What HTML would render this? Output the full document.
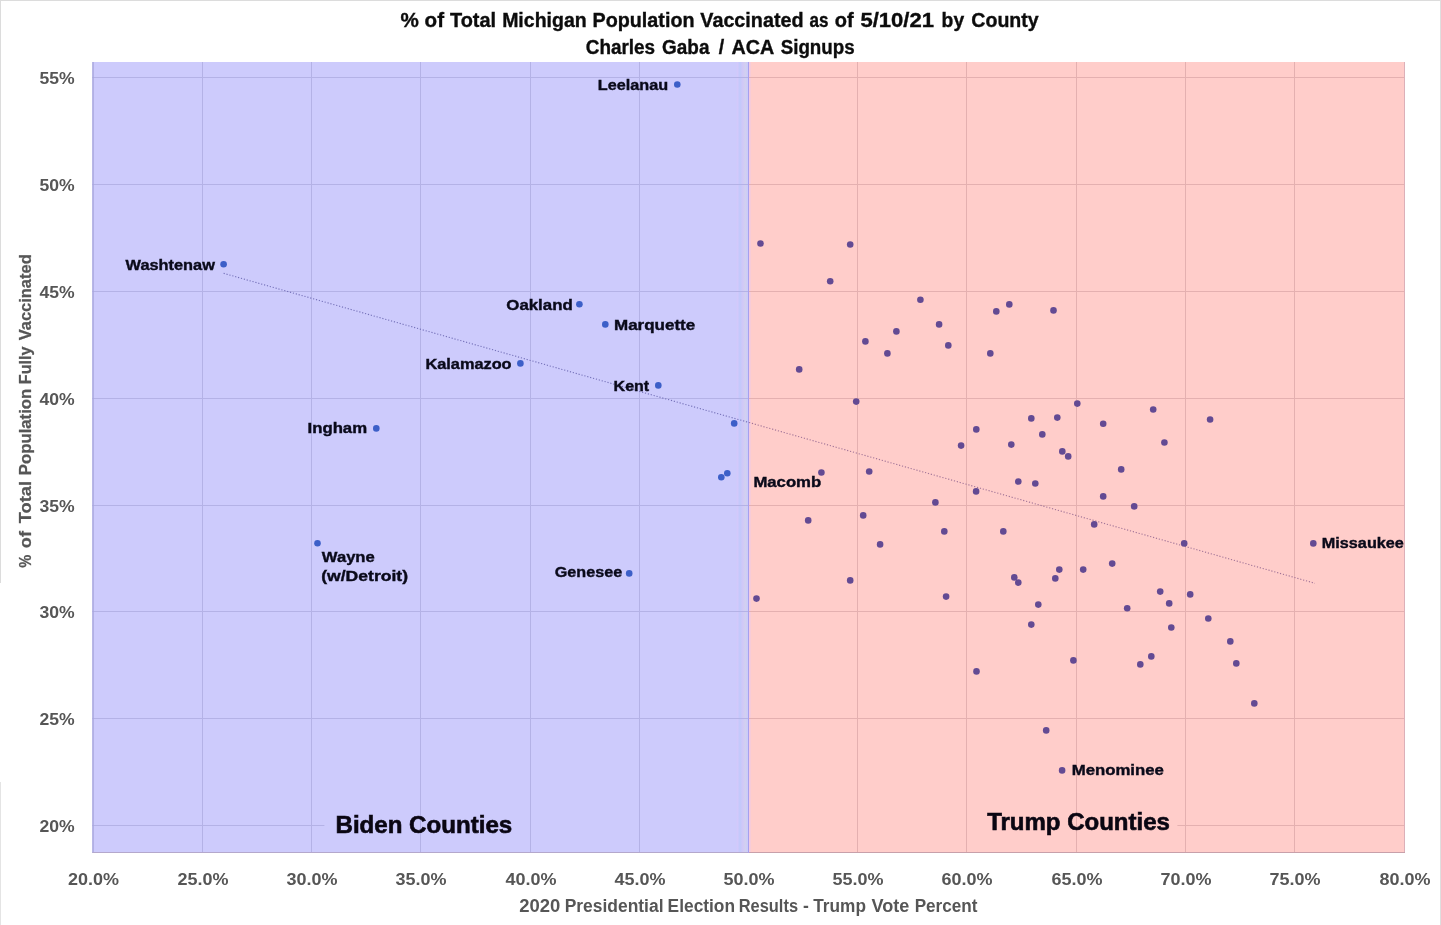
<!DOCTYPE html>
<html lang="en"><head><meta charset="utf-8"><title>% of Total Michigan Population Vaccinated as of 5/10/21 by County</title>
<style>
html,body{margin:0;padding:0;background:#fff;}
body{width:1441px;height:925px;overflow:hidden;font-family:"Liberation Sans",sans-serif;}
svg{display:block;}
text{font-family:"Liberation Sans",sans-serif;}
.ttl{font-weight:bold;fill:#0c0c0c;stroke:#0c0c0c;stroke-width:0.35px;}
.ax{font-weight:bold;fill:#565656;}
.lb{font-weight:bold;fill:#0a0a1a;stroke:#0a0a1a;stroke-width:0.4px;}
.big{font-weight:bold;fill:#0a0612;stroke:#0a0612;stroke-width:0.6px;}
</style></head><body>
<svg width="1441" height="925" viewBox="0 0 1441 925">
<rect x="0" y="0" width="1441" height="925" fill="#ffffff"/>
<rect x="0" y="0" width="1441" height="1" fill="#dcdcdc"/>
<rect x="0" y="0" width="1" height="583" fill="#dcdcdc"/>
<rect x="0" y="782" width="1" height="143" fill="#e4e4e4"/>
<rect x="1440" y="0" width="1" height="925" fill="#dedede"/>
<rect x="92.4" y="62.0" width="656.6" height="791.0" fill="#cdcbfc"/>
<rect x="749.0" y="62.0" width="656.0" height="791.0" fill="#ffcdca"/>
<defs><linearGradient id="sm" x1="0" x2="1" y1="0" y2="0"><stop offset="0" stop-color="#cdcbfc"/><stop offset="0.12" stop-color="#d3c9fb"/><stop offset="0.33" stop-color="#c1c9fb"/><stop offset="0.55" stop-color="#d0c8f7"/><stop offset="0.78" stop-color="#d2d0f0"/><stop offset="1" stop-color="#c8cbfc"/></linearGradient></defs>
<rect x="736" y="62.0" width="12" height="791.0" fill="url(#sm)"/>
<rect x="749" y="62.0" width="1.6" height="791.0" fill="#f2cbe2"/>
<line x1="92.4" y1="718.5" x2="749.0" y2="718.5" stroke="#b4b2e6" stroke-width="1"/>
<line x1="749.0" y1="718.5" x2="1405.0" y2="718.5" stroke="#e4b0b0" stroke-width="1"/>
<line x1="92.4" y1="611.5" x2="749.0" y2="611.5" stroke="#b4b2e6" stroke-width="1"/>
<line x1="749.0" y1="611.5" x2="1405.0" y2="611.5" stroke="#e4b0b0" stroke-width="1"/>
<line x1="92.4" y1="505.5" x2="749.0" y2="505.5" stroke="#b4b2e6" stroke-width="1"/>
<line x1="749.0" y1="505.5" x2="1405.0" y2="505.5" stroke="#e4b0b0" stroke-width="1"/>
<line x1="92.4" y1="398.5" x2="749.0" y2="398.5" stroke="#b4b2e6" stroke-width="1"/>
<line x1="749.0" y1="398.5" x2="1405.0" y2="398.5" stroke="#e4b0b0" stroke-width="1"/>
<line x1="92.4" y1="291.5" x2="749.0" y2="291.5" stroke="#b4b2e6" stroke-width="1"/>
<line x1="749.0" y1="291.5" x2="1405.0" y2="291.5" stroke="#e4b0b0" stroke-width="1"/>
<line x1="92.4" y1="184.5" x2="749.0" y2="184.5" stroke="#b4b2e6" stroke-width="1"/>
<line x1="749.0" y1="184.5" x2="1405.0" y2="184.5" stroke="#e4b0b0" stroke-width="1"/>
<line x1="92.4" y1="77.5" x2="749.0" y2="77.5" stroke="#b4b2e6" stroke-width="1"/>
<line x1="749.0" y1="77.5" x2="1405.0" y2="77.5" stroke="#e4b0b0" stroke-width="1"/>
<line x1="92.4" y1="825.5" x2="324.4" y2="825.5" stroke="#b4b2e6" stroke-width="1"/>
<line x1="1177.4" y1="825.5" x2="1405.0" y2="825.5" stroke="#e4b0b0" stroke-width="1"/>
<line x1="202.5" y1="62.0" x2="202.5" y2="853.0" stroke="#b4b2e6" stroke-width="1"/>
<line x1="311.5" y1="62.0" x2="311.5" y2="853.0" stroke="#b4b2e6" stroke-width="1"/>
<line x1="420.5" y1="62.0" x2="420.5" y2="853.0" stroke="#b4b2e6" stroke-width="1"/>
<line x1="530.5" y1="62.0" x2="530.5" y2="853.0" stroke="#b4b2e6" stroke-width="1"/>
<line x1="639.5" y1="62.0" x2="639.5" y2="853.0" stroke="#b4b2e6" stroke-width="1"/>
<line x1="857.5" y1="62.0" x2="857.5" y2="853.0" stroke="#e4b0b0" stroke-width="1"/>
<line x1="966.5" y1="62.0" x2="966.5" y2="853.0" stroke="#e4b0b0" stroke-width="1"/>
<line x1="1076.5" y1="62.0" x2="1076.5" y2="853.0" stroke="#e4b0b0" stroke-width="1"/>
<line x1="1185.5" y1="62.0" x2="1185.5" y2="853.0" stroke="#e4b0b0" stroke-width="1"/>
<line x1="1294.5" y1="62.0" x2="1294.5" y2="853.0" stroke="#e4b0b0" stroke-width="1"/>
<line x1="93.0" y1="62.0" x2="93.0" y2="853.0" stroke="#a7a5dc" stroke-width="1.4"/>
<line x1="1404.5" y1="62.0" x2="1404.5" y2="853.0" stroke="#dcb0b8" stroke-width="1"/>
<line x1="92.4" y1="852.5" x2="749.0" y2="852.5" stroke="#b4a8cc" stroke-width="1"/>
<line x1="749.0" y1="852.5" x2="1405.0" y2="852.5" stroke="#c8a0aa" stroke-width="1"/>
<line x1="748.5" y1="62.0" x2="748.5" y2="853.0" stroke="#a79fee" stroke-width="1"/>
<line x1="223.6" y1="273.3" x2="749.0" y2="422.5" stroke="#7470b8" stroke-width="1.1" stroke-dasharray="1.2 1.8"/>
<line x1="749.0" y1="422.5" x2="1315.0" y2="583.3" stroke="#a07296" stroke-width="1.1" stroke-dasharray="1.2 1.8"/>
<g fill="#3c5fc8">
<circle cx="677.3" cy="84.5" r="3.3"/>
<circle cx="223.6" cy="264.2" r="3.3"/>
<circle cx="579.4" cy="304.2" r="3.3"/>
<circle cx="605.3" cy="324.4" r="3.3"/>
<circle cx="520.4" cy="363.4" r="3.3"/>
<circle cx="658.3" cy="385.4" r="3.3"/>
<circle cx="376.3" cy="428.4" r="3.3"/>
<circle cx="734.2" cy="423.4" r="3.3"/>
<circle cx="727.3" cy="473.3" r="3.3"/>
<circle cx="721.3" cy="477.3" r="3.3"/>
<circle cx="317.5" cy="543.2" r="3.3"/>
<circle cx="629.2" cy="573.4" r="3.3"/>
</g>
<g fill="#634a93">
<circle cx="760.5" cy="243.5" r="3.3"/>
<circle cx="850.2" cy="244.5" r="3.3"/>
<circle cx="830.2" cy="281.2" r="3.3"/>
<circle cx="920.4" cy="299.7" r="3.3"/>
<circle cx="1009.3" cy="304.4" r="3.3"/>
<circle cx="996.3" cy="311.4" r="3.3"/>
<circle cx="1053.5" cy="310.4" r="3.3"/>
<circle cx="939.1" cy="324.4" r="3.3"/>
<circle cx="896.4" cy="331.4" r="3.3"/>
<circle cx="948.3" cy="345.4" r="3.3"/>
<circle cx="865.4" cy="341.4" r="3.3"/>
<circle cx="887.4" cy="353.4" r="3.3"/>
<circle cx="990.3" cy="353.4" r="3.3"/>
<circle cx="799.2" cy="369.4" r="3.3"/>
<circle cx="856.2" cy="401.6" r="3.3"/>
<circle cx="1077.3" cy="403.6" r="3.3"/>
<circle cx="1031.3" cy="418.4" r="3.3"/>
<circle cx="1057.3" cy="417.6" r="3.3"/>
<circle cx="976.3" cy="429.4" r="3.3"/>
<circle cx="1042.3" cy="434.4" r="3.3"/>
<circle cx="961.1" cy="445.6" r="3.3"/>
<circle cx="1011.3" cy="444.6" r="3.3"/>
<circle cx="1062.3" cy="451.4" r="3.3"/>
<circle cx="1153.2" cy="409.5" r="3.3"/>
<circle cx="1210.1" cy="419.5" r="3.3"/>
<circle cx="1103.2" cy="423.7" r="3.3"/>
<circle cx="1164.4" cy="442.5" r="3.3"/>
<circle cx="1068.2" cy="456.4" r="3.3"/>
<circle cx="1121.2" cy="469.4" r="3.3"/>
<circle cx="1103.2" cy="496.4" r="3.3"/>
<circle cx="1134.2" cy="506.4" r="3.3"/>
<circle cx="1094.2" cy="524.4" r="3.3"/>
<circle cx="1184.2" cy="543.4" r="3.3"/>
<circle cx="1313.3" cy="543.4" r="3.3"/>
<circle cx="1112.2" cy="563.6" r="3.3"/>
<circle cx="1083.2" cy="569.6" r="3.3"/>
<circle cx="1059.3" cy="569.6" r="3.3"/>
<circle cx="1160.2" cy="591.6" r="3.3"/>
<circle cx="1190.2" cy="594.4" r="3.3"/>
<circle cx="1169.2" cy="603.4" r="3.3"/>
<circle cx="1127.2" cy="608.2" r="3.3"/>
<circle cx="821.4" cy="472.5" r="3.3"/>
<circle cx="869.2" cy="471.5" r="3.3"/>
<circle cx="1018.3" cy="481.5" r="3.3"/>
<circle cx="1035.3" cy="483.5" r="3.3"/>
<circle cx="976.1" cy="491.4" r="3.3"/>
<circle cx="935.4" cy="502.4" r="3.3"/>
<circle cx="863.2" cy="515.4" r="3.3"/>
<circle cx="808.2" cy="520.4" r="3.3"/>
<circle cx="944.3" cy="531.4" r="3.3"/>
<circle cx="1003.3" cy="531.4" r="3.3"/>
<circle cx="880.1" cy="544.4" r="3.3"/>
<circle cx="1014.3" cy="577.4" r="3.3"/>
<circle cx="1018.3" cy="582.6" r="3.3"/>
<circle cx="1055.3" cy="578.4" r="3.3"/>
<circle cx="850.2" cy="580.4" r="3.3"/>
<circle cx="756.5" cy="598.6" r="3.3"/>
<circle cx="946.1" cy="596.6" r="3.3"/>
<circle cx="1038.3" cy="604.6" r="3.3"/>
<circle cx="1031.3" cy="624.6" r="3.3"/>
<circle cx="1208.3" cy="618.5" r="3.3"/>
<circle cx="1171.3" cy="627.5" r="3.3"/>
<circle cx="1230.3" cy="641.4" r="3.3"/>
<circle cx="1151.3" cy="656.4" r="3.3"/>
<circle cx="1140.3" cy="664.4" r="3.3"/>
<circle cx="1236.3" cy="663.4" r="3.3"/>
<circle cx="1073.4" cy="660.4" r="3.3"/>
<circle cx="976.5" cy="671.4" r="3.3"/>
<circle cx="1254.3" cy="703.4" r="3.3"/>
<circle cx="1046.2" cy="730.4" r="3.3"/>
<circle cx="1062.1" cy="770.4" r="3.3"/>
</g>
<text class="ttl" y="26.9" font-size="19.8"><tspan x="400.57" textLength="18.34" lengthAdjust="spacingAndGlyphs">%</tspan> <tspan x="424.61" textLength="19.42" lengthAdjust="spacingAndGlyphs">of</tspan> <tspan x="450.03" textLength="46.12" lengthAdjust="spacingAndGlyphs">Total</tspan> <tspan x="502.13" textLength="84.53" lengthAdjust="spacingAndGlyphs">Michigan</tspan> <tspan x="592.50" textLength="102.03" lengthAdjust="spacingAndGlyphs">Population</tspan> <tspan x="700.32" textLength="103.21" lengthAdjust="spacingAndGlyphs">Vaccinated</tspan> <tspan x="809.55" textLength="18.98" lengthAdjust="spacingAndGlyphs">as</tspan> <tspan x="834.88" textLength="18.87" lengthAdjust="spacingAndGlyphs">of</tspan> <tspan x="860.44" textLength="73.58" lengthAdjust="spacingAndGlyphs">5/10/21</tspan> <tspan x="941.62" textLength="22.54" lengthAdjust="spacingAndGlyphs">by</tspan> <tspan x="971.30" textLength="67.38" lengthAdjust="spacingAndGlyphs">County</tspan></text>
<text class="ttl" y="54.0" font-size="19.6"><tspan x="585.74" textLength="69.38" lengthAdjust="spacingAndGlyphs">Charles</tspan> <tspan x="662.12" textLength="47.33" lengthAdjust="spacingAndGlyphs">Gaba</tspan> <tspan x="718.83">/</tspan> <tspan x="731.60" textLength="41.97" lengthAdjust="spacingAndGlyphs">ACA</tspan> <tspan x="780.68" textLength="73.95" lengthAdjust="spacingAndGlyphs">Signups</tspan></text>
<text class="ax" x="39.4" y="832.0" font-size="16.5" textLength="35.2" lengthAdjust="spacingAndGlyphs">20%</text>
<text class="ax" x="39.4" y="725.0" font-size="16.5" textLength="35.2" lengthAdjust="spacingAndGlyphs">25%</text>
<text class="ax" x="39.4" y="618.0" font-size="16.5" textLength="35.2" lengthAdjust="spacingAndGlyphs">30%</text>
<text class="ax" x="39.4" y="512.0" font-size="16.5" textLength="35.2" lengthAdjust="spacingAndGlyphs">35%</text>
<text class="ax" x="39.4" y="405.0" font-size="16.5" textLength="35.2" lengthAdjust="spacingAndGlyphs">40%</text>
<text class="ax" x="39.4" y="298.0" font-size="16.5" textLength="35.2" lengthAdjust="spacingAndGlyphs">45%</text>
<text class="ax" x="39.4" y="191.0" font-size="16.5" textLength="35.2" lengthAdjust="spacingAndGlyphs">50%</text>
<text class="ax" x="39.4" y="84.0" font-size="16.5" textLength="35.2" lengthAdjust="spacingAndGlyphs">55%</text>
<text class="ax" x="68.0" y="884.9" font-size="16.5" textLength="51.0" lengthAdjust="spacingAndGlyphs">20.0%</text>
<text class="ax" x="177.5" y="884.9" font-size="16.5" textLength="51.0" lengthAdjust="spacingAndGlyphs">25.0%</text>
<text class="ax" x="286.5" y="884.9" font-size="16.5" textLength="51.0" lengthAdjust="spacingAndGlyphs">30.0%</text>
<text class="ax" x="395.5" y="884.9" font-size="16.5" textLength="51.0" lengthAdjust="spacingAndGlyphs">35.0%</text>
<text class="ax" x="505.5" y="884.9" font-size="16.5" textLength="51.0" lengthAdjust="spacingAndGlyphs">40.0%</text>
<text class="ax" x="614.5" y="884.9" font-size="16.5" textLength="51.0" lengthAdjust="spacingAndGlyphs">45.0%</text>
<text class="ax" x="723.5" y="884.9" font-size="16.5" textLength="51.0" lengthAdjust="spacingAndGlyphs">50.0%</text>
<text class="ax" x="832.5" y="884.9" font-size="16.5" textLength="51.0" lengthAdjust="spacingAndGlyphs">55.0%</text>
<text class="ax" x="941.5" y="884.9" font-size="16.5" textLength="51.0" lengthAdjust="spacingAndGlyphs">60.0%</text>
<text class="ax" x="1051.5" y="884.9" font-size="16.5" textLength="51.0" lengthAdjust="spacingAndGlyphs">65.0%</text>
<text class="ax" x="1160.5" y="884.9" font-size="16.5" textLength="51.0" lengthAdjust="spacingAndGlyphs">70.0%</text>
<text class="ax" x="1269.5" y="884.9" font-size="16.5" textLength="51.0" lengthAdjust="spacingAndGlyphs">75.0%</text>
<text class="ax" x="1379.5" y="884.9" font-size="16.5" textLength="51.0" lengthAdjust="spacingAndGlyphs">80.0%</text>
<text class="ax" y="911.6" font-size="17.6"><tspan x="519.30" textLength="41.10" lengthAdjust="spacingAndGlyphs">2020</tspan> <tspan x="564.67" textLength="98.84" lengthAdjust="spacingAndGlyphs">Presidential</tspan> <tspan x="667.62" textLength="67.44" lengthAdjust="spacingAndGlyphs">Election</tspan> <tspan x="738.68" textLength="59.37" lengthAdjust="spacingAndGlyphs">Results</tspan> <tspan x="803.07">-</tspan> <tspan x="813.29" textLength="52.68" lengthAdjust="spacingAndGlyphs">Trump</tspan> <tspan x="871.44" textLength="37.83" lengthAdjust="spacingAndGlyphs">Vote</tspan> <tspan x="914.63" textLength="62.83" lengthAdjust="spacingAndGlyphs">Percent</tspan></text>
<text class="ax" y="0.0" font-size="16.8" transform="translate(31.1 567.6) rotate(-90)" stroke="#565656" stroke-width="0.25"><tspan x="-0.17" textLength="13.02" lengthAdjust="spacingAndGlyphs">%</tspan> <tspan x="19.45" textLength="17.08" lengthAdjust="spacingAndGlyphs">of</tspan> <tspan x="44.26" textLength="42.32" lengthAdjust="spacingAndGlyphs">Total</tspan> <tspan x="92.46" textLength="86.41" lengthAdjust="spacingAndGlyphs">Population</tspan> <tspan x="183.46" textLength="37.69" lengthAdjust="spacingAndGlyphs">Fully</tspan> <tspan x="227.24" textLength="86.13" lengthAdjust="spacingAndGlyphs">Vaccinated</tspan></text>
<text class="big" x="335.5" y="832.8" font-size="24" textLength="176.7" lengthAdjust="spacingAndGlyphs">Biden Counties</text>
<text class="big" x="987.2" y="829.6" font-size="23.6" textLength="182.7" lengthAdjust="spacingAndGlyphs">Trump Counties</text>
<text class="lb" x="597.8" y="90.0" font-size="15.3" textLength="70.3" lengthAdjust="spacingAndGlyphs">Leelanau</text>
<text class="lb" x="125.6" y="270.0" font-size="15.3" textLength="89.3" lengthAdjust="spacingAndGlyphs">Washtenaw</text>
<text class="lb" x="506.3" y="310.0" font-size="15.3" textLength="66.4" lengthAdjust="spacingAndGlyphs">Oakland</text>
<text class="lb" x="614.0" y="329.9" font-size="15.3" textLength="81.2" lengthAdjust="spacingAndGlyphs">Marquette</text>
<text class="lb" x="425.4" y="368.9" font-size="15.3" textLength="86.2" lengthAdjust="spacingAndGlyphs">Kalamazoo</text>
<text class="lb" x="613.6" y="391.1" font-size="15.3" textLength="35.6" lengthAdjust="spacingAndGlyphs">Kent</text>
<text class="lb" x="307.5" y="433.1" font-size="15.3" textLength="59.6" lengthAdjust="spacingAndGlyphs">Ingham</text>
<text class="lb" x="753.4" y="487.0" font-size="15.3" textLength="67.8" lengthAdjust="spacingAndGlyphs">Macomb</text>
<text class="lb" x="321.8" y="561.9" font-size="15.3" textLength="53.0" lengthAdjust="spacingAndGlyphs">Wayne</text>
<text class="lb" x="321.2" y="580.6" font-size="15.3" textLength="86.9" lengthAdjust="spacingAndGlyphs">(w/Detroit)</text>
<text class="lb" x="554.8" y="576.9" font-size="15.3" textLength="67.4" lengthAdjust="spacingAndGlyphs">Genesee</text>
<text class="lb" x="1321.8" y="547.9" font-size="15.3" textLength="82.1" lengthAdjust="spacingAndGlyphs">Missaukee</text>
<text class="lb" x="1071.7" y="774.8" font-size="15.3" textLength="92.2" lengthAdjust="spacingAndGlyphs">Menominee</text>
</svg>
</body></html>
